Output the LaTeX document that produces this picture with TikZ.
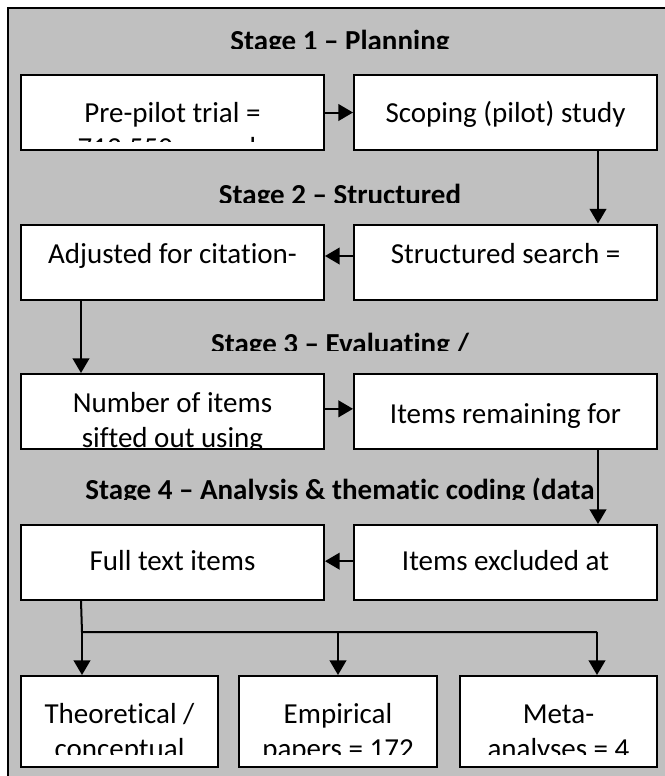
\documentclass[tikz,border=0pt]{standalone}
\usepackage{fontspec}
\setmainfont{Carlito}[Ligatures={TeX,NoCommon}]
\usetikzlibrary{arrows.meta}
\definecolor{panel}{HTML}{C0C0C0}

\begin{document}
\begin{tikzpicture}[x=0.75pt, y=-0.75pt, line width=1.5pt,
    box/.style={draw, fill=white, inner sep=0pt},
    wide/.style={box, minimum width=227.25pt, minimum height=56.25pt},
    narrow/.style={box, minimum width=148pt, minimum height=68.25pt},
    arr/.style={-{Triangle[width=12.5pt,length=11pt]}},
    txt/.style={anchor=base, align=center, inner sep=0pt, font=\fontsize{21.75pt}{26.5pt}\selectfont},
    head/.style={anchor=base, inner sep=0pt, font=\fontsize{21.75pt}{26.5pt}\selectfont\bfseries}]
    \clip (0,0) rectangle (665,776);
    \fill[white] (0,0) rectangle (665,776);
    \draw[fill=panel] (8,8) rectangle (700,800);

    % boxes
    \node[wide] (pilot) at (172.5,112.5) {};
    \node[wide] (scoping) at (505.5,112.5) {};
    \node[wide] (adjusted) at (172.5,262) {};
    \node[wide] (search) at (505.5,262) {};
    \node[wide] (number) at (172.5,411.5) {};
    \node[wide] (remaining) at (505.5,411.5) {};
    \node[wide] (fulltext) at (172.5,562.5) {};
    \node[wide] (excluded) at (505.5,562.5) {};
    \node[narrow] (theory) at (119.5,721.5) {};
    \node[narrow] (empirical) at (338,721.5) {};
    \node[narrow] (meta) at (558.5,721.5) {};

    % texts cut off at the foot (base = last line)
    \begin{scope}
        \clip (0,20) rectangle (665,48) (0,180) rectangle (665,202)
              (0,325) rectangle (665,350) (0,470) rectangle (665,499.5)
              (21,75) rectangle (324,141) (21,374) rectangle (324,447)
              (21,676) rectangle (657,754);
        \node[head] (stage1) at (340,50.5) {Stage 1 -- Planning};
        \node[head] (stage2) at (340,204) {Stage 2 -- Structured};
        \node[head] (stage3) at (340,353) {Stage 3 -- Evaluating /};
        \node[head] (stage4) at (340,499) {Stage 4 -- Analysis \& thematic coding (data};
        \node[txt] (pilot-t) at (172.5,157.5) {Pre-pilot trial =\\712,550 records};
        \node[txt] (number-t) at (172.5,447.5) {Number of items\\sifted out using};
        \node[txt] (theory-t) at (119.5,758.5) {Theoretical /\\conceptual};
        \node[txt] (empirical-t) at (338,758.5) {Empirical\\papers = 172};
        \node[txt] (meta-t) at (558.5,758.5) {Meta-\\analyses = 4};
    \end{scope}
    \node[txt] (scoping-t) at (505.5,122) {Scoping (pilot) study};
    \node[txt] (adjusted-t) at (172.5,263) {Adjusted for citation-};
    \node[txt] (search-t) at (505.5,263) {Structured search =};
    \node[txt] (remaining-t) at (505.5,423) {Items remaining for};
    \node[txt] (fulltext-t) at (172.5,570) {Full text items};
    \node[txt] (excluded-t) at (505.5,570) {Items excluded at};

    % arrows
    \draw[arr] (pilot) -- (scoping);
    \draw[arr] ([xshift=-45pt]scoping.south east) -- ([xshift=-45pt]search.north east);
    \draw[arr] ([yshift=4.5pt]search.west) -- ([yshift=4.5pt]adjusted.east);
    \draw[arr] ([xshift=45.75pt]adjusted.south west) -- ([xshift=45.75pt]number.north west);
    \draw[arr] ([yshift=2pt]number.east) -- ([yshift=2pt]remaining.west);
    \draw[arr] ([xshift=-45pt]remaining.south east) -- ([xshift=-45pt]excluded.north east);
    \draw[arr] ([yshift=1pt]excluded.west) -- ([yshift=1pt]fulltext.east);

    % fork to the three kinds of paper
    \coordinate (forkL) at (82,632);
    \coordinate (forkR) at (597,632);
    \draw ([xshift=45.75pt]fulltext.south west) -- (forkL) -- (forkR);
    \draw[arr] (forkL) -- (forkL |- theory.north);
    \draw[arr] (forkL -| empirical.north) -- (empirical.north);
    \draw[arr] (forkR) -- (forkR |- meta.north);
\end{tikzpicture}
\end{document}
